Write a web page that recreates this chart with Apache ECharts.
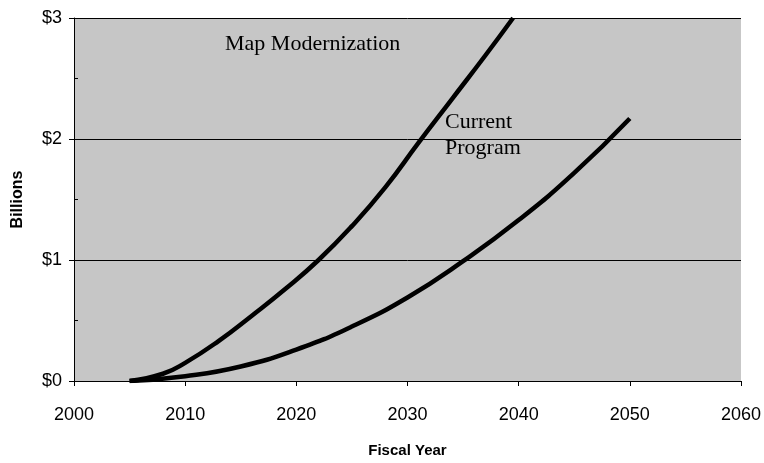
<!DOCTYPE html>
<html lang="en">
<head>
    <meta charset="UTF-8">
    <title>Map Modernization vs Current Program</title>
    <script src="https://cdn.jsdelivr.net/npm/echarts@6.0.0/dist/echarts.min.js"></script>
    <style>
        body { margin: 0; background: #fff; }
        #chart { width: 764px; height: 463px; }
    </style>
</head>
<body>
    <div id="chart"></div>
    <script>
        // (fiscal year, $ billions)
        const mapModYears = [2005, 2008, 2010, 2013, 2016, 2019, 2022, 2025, 2028, 2031, 2034, 2037, 2039.5];
        const mapModValues = [0, 0.06, 0.15, 0.33, 0.54, 0.76, 1.0, 1.28, 1.6, 1.97, 2.33, 2.69, 3.0];

        const currentYears = [2005, 2010, 2015, 2020, 2025, 2030, 2035, 2040, 2045, 2050];
        const currentValues = [0, 0.04, 0.12, 0.26, 0.45, 0.69, 0.99, 1.33, 1.72, 2.17];

        const yTickLabels = ['$0', '$1', '$2', '$3'];

        const toPairs = (xs, ys) => xs.map((x, i) => [x, ys[i]]);

        const chart = echarts.init(document.getElementById('chart'));
        const sans = 'Liberation Sans, Arial, sans-serif';
        const serif = 'Liberation Serif, Times New Roman, serif';

        chart.setOption({
            animation: false,
            grid: {
                left: 74, right: 21, top: 18, bottom: 79,
                show: true,
                backgroundColor: '#c6c6c6',
                borderWidth: 0
            },
            xAxis: {
                type: 'value',
                min: 2000, max: 2060, interval: 10,
                name: 'Fiscal Year',
                nameLocation: 'middle',
                nameGap: 62,
                nameTextStyle: { fontFamily: sans, fontWeight: 'bold', fontSize: 15, color: '#000' },
                axisLine: { show: true, lineStyle: { color: '#000', width: 1 } },
                axisTick: { show: true, length: 5, lineStyle: { color: '#000' } },
                axisLabel: { margin: 25, fontFamily: sans, fontSize: 18, color: '#000', formatter: v => String(v) },
                splitLine: { show: false }
            },
            yAxis: [{
                type: 'value',
                min: 0, max: 3, interval: 1,
                name: 'Billions',
                nameLocation: 'middle',
                nameGap: 48,
                nameTextStyle: { fontFamily: sans, fontWeight: 'bold', fontSize: 16, color: '#000' },
                axisLine: { show: true, lineStyle: { color: '#000', width: 1 } },
                axisTick: { show: true, length: 5, lineStyle: { color: '#000' } },
                axisLabel: {
                    margin: 12, fontFamily: sans, fontSize: 18, color: '#000',
                    formatter: v => yTickLabels[Math.round(v)]
                },
                splitLine: { show: true, lineStyle: { color: '#000', width: 1 } }
            }, {
                // small inward half-step ticks
                type: 'value',
                position: 'left',
                min: 0, max: 3, interval: 0.5,
                axisLine: { show: false },
                axisTick: { show: true, inside: true, length: 4, lineStyle: { color: '#000' } },
                axisLabel: { show: false },
                splitLine: { show: false }
            }],
            series: [{
                name: 'Map Modernization',
                type: 'line',
                smooth: 0.5,
                showSymbol: false,
                lineStyle: { color: '#000', width: 4.5 },
                data: toPairs(mapModYears, mapModValues)
            }, {
                name: 'Current Program',
                type: 'line',
                smooth: 0.5,
                showSymbol: false,
                lineStyle: { color: '#000', width: 4.5 },
                data: toPairs(currentYears, currentValues)
            }],
            graphic: [
                { type: 'text', x: 225, y: 44, style: { text: 'Map Modernization', font: '22px ' + serif, fill: '#000', verticalAlign: 'middle' } },
                { type: 'text', x: 445, y: 122, style: { text: 'Current', font: '22px ' + serif, fill: '#000', verticalAlign: 'middle' } },
                { type: 'text', x: 445, y: 148, style: { text: 'Program', font: '22px ' + serif, fill: '#000', verticalAlign: 'middle' } }
            ]
        });
    </script>
</body>
</html>
